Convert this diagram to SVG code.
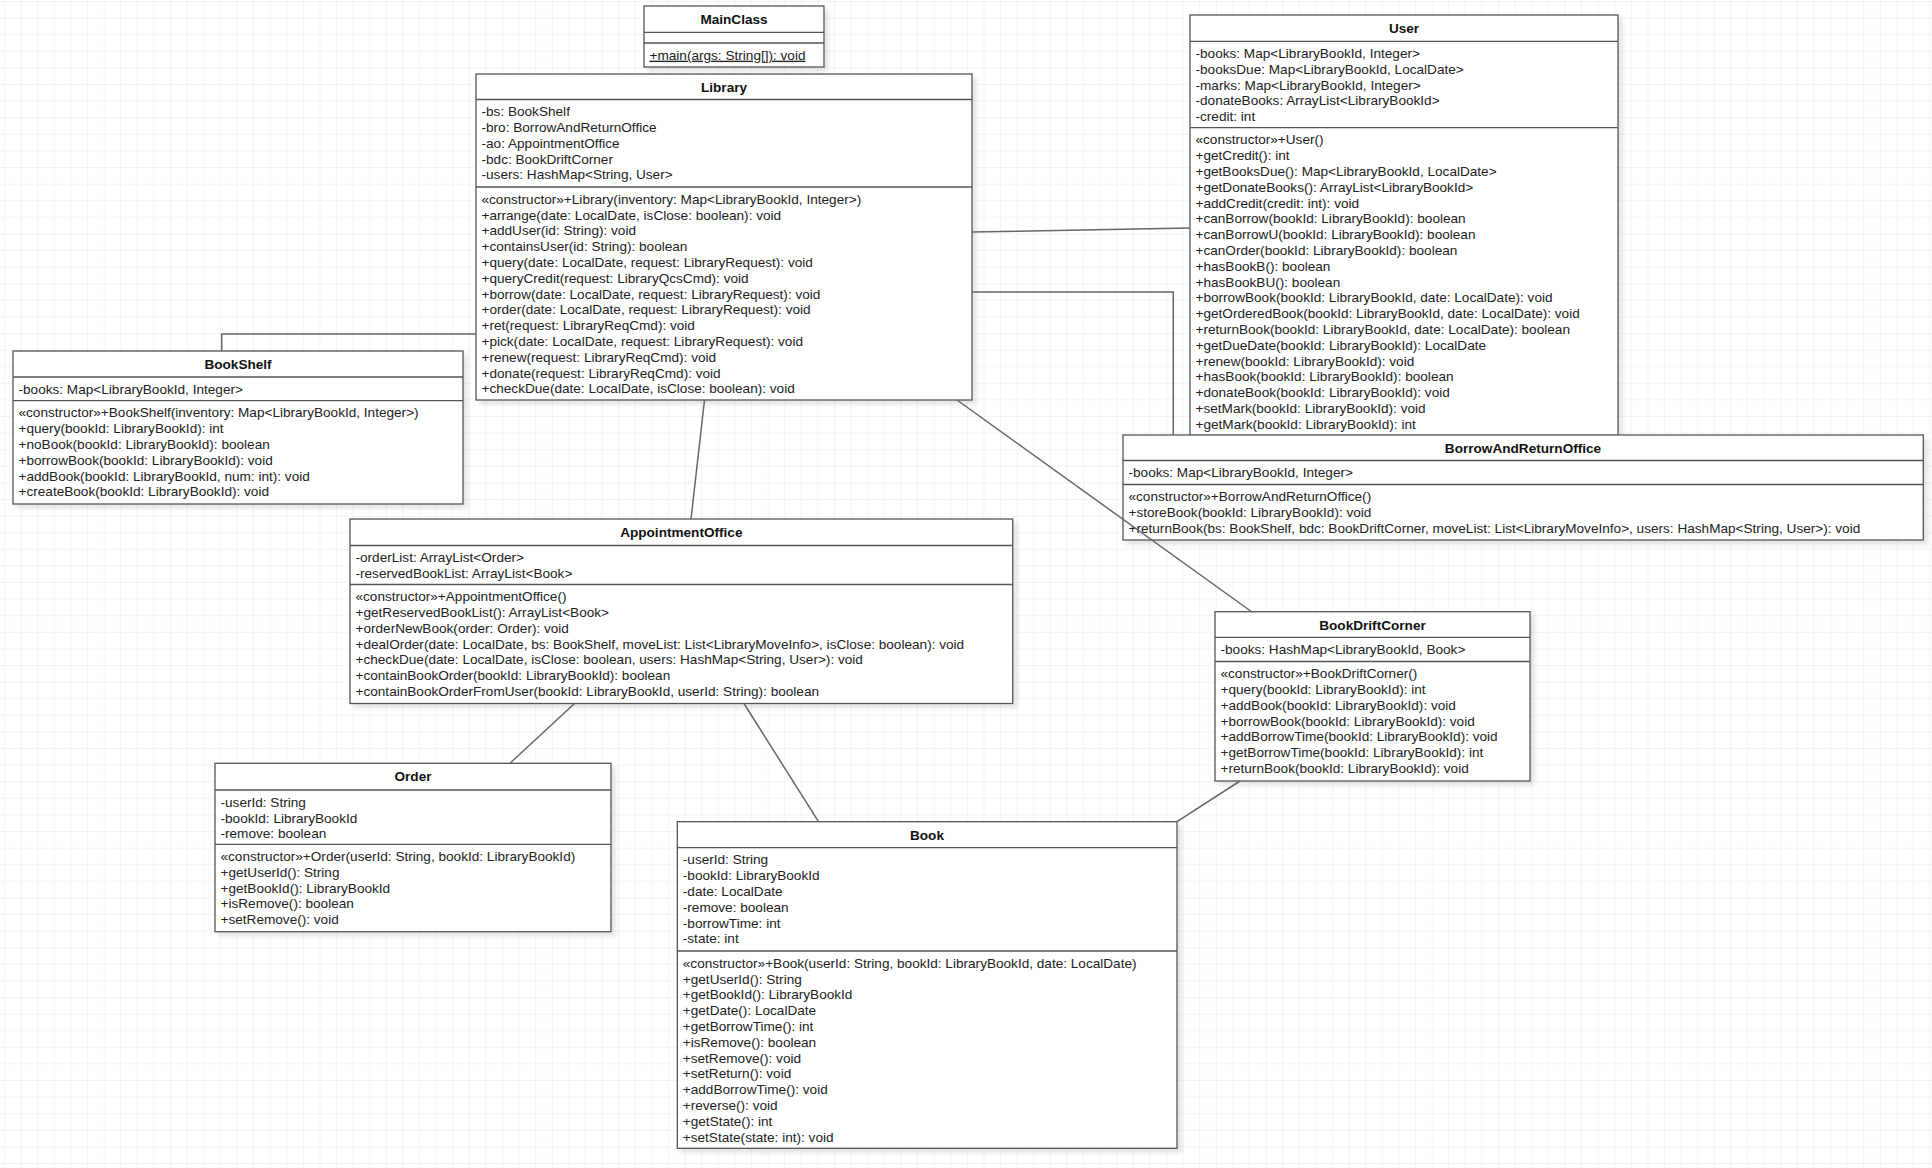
<svg xmlns="http://www.w3.org/2000/svg" width="1932" height="1168" viewBox="0 0 1932 1168">
<style>
.box{fill:#fff;stroke:#555;stroke-width:1.3;filter:url(#sh)}
.dv{stroke:#555;stroke-width:1.3}
.t{font-family:"Liberation Sans",Arial,Helvetica,sans-serif;font-size:13.6px;fill:#222}
.h{font-weight:bold;text-anchor:middle;fill:#111}
.u{text-decoration:underline}
.conn{stroke:#666;stroke-width:1.5;fill:none}
</style>
<defs>
<pattern id="grid" x="5" y="2" width="16.6" height="16.6" patternUnits="userSpaceOnUse">
<path d="M16.6 0 V16.6 M0 16.6 H16.6" fill="none" stroke="#e8e8e8" stroke-width="1"/>
</pattern>
<filter id="sh" x="-5%" y="-5%" width="115%" height="115%">
<feDropShadow dx="4" dy="4" stdDeviation="2" flood-color="#000" flood-opacity="0.1"/>
</filter>
</defs>
<rect width="1932" height="1168" fill="#fff"/>
<rect width="1932" height="1168" fill="url(#grid)"/>

<g id="MainClass">
<rect class="box" x="644" y="6" width="180" height="61"/>
<line class="dv" x1="644" y1="32.3" x2="824" y2="32.3"/>
<line class="dv" x1="644" y1="43" x2="824" y2="43"/>
<text class="t h" x="734" y="24">MainClass</text>
<text class="t u" x="649.5" y="59.7">+main(args: String[]): void</text>
</g>

<g id="Library">
<rect class="box" x="476" y="74" width="496" height="326"/>
<line class="dv" x1="476" y1="99.5" x2="972" y2="99.5"/>
<line class="dv" x1="476" y1="187" x2="972" y2="187"/>
<text class="t h" x="724" y="92">Library</text>
<text class="t" x="481.5" y="116.2">-bs: BookShelf<tspan x="481.5" dy="15.8">-bro: BorrowAndReturnOffice</tspan><tspan x="481.5" dy="15.8">-ao: AppointmentOffice</tspan><tspan x="481.5" dy="15.8">-bdc: BookDriftCorner</tspan><tspan x="481.5" dy="15.8">-users: HashMap&lt;String, User&gt;</tspan></text>
<text class="t" x="481.5" y="203.7">«constructor»+Library(inventory: Map&lt;LibraryBookId, Integer&gt;)<tspan x="481.5" dy="15.8">+arrange(date: LocalDate, isClose: boolean): void</tspan><tspan x="481.5" dy="15.8">+addUser(id: String): void</tspan><tspan x="481.5" dy="15.8">+containsUser(id: String): boolean</tspan><tspan x="481.5" dy="15.8">+query(date: LocalDate, request: LibraryRequest): void</tspan><tspan x="481.5" dy="15.8">+queryCredit(request: LibraryQcsCmd): void</tspan><tspan x="481.5" dy="15.8">+borrow(date: LocalDate, request: LibraryRequest): void</tspan><tspan x="481.5" dy="15.8">+order(date: LocalDate, request: LibraryRequest): void</tspan><tspan x="481.5" dy="15.8">+ret(request: LibraryReqCmd): void</tspan><tspan x="481.5" dy="15.8">+pick(date: LocalDate, request: LibraryRequest): void</tspan><tspan x="481.5" dy="15.8">+renew(request: LibraryReqCmd): void</tspan><tspan x="481.5" dy="15.8">+donate(request: LibraryReqCmd): void</tspan><tspan x="481.5" dy="15.8">+checkDue(date: LocalDate, isClose: boolean): void</tspan></text>
</g>

<g id="User">
<rect class="box" x="1190" y="15" width="428" height="420.5"/>
<line class="dv" x1="1190" y1="41.3" x2="1618" y2="41.3"/>
<line class="dv" x1="1190" y1="127.7" x2="1618" y2="127.7"/>
<text class="t h" x="1404" y="33">User</text>
<text class="t" x="1195.5" y="58">-books: Map&lt;LibraryBookId, Integer&gt;<tspan x="1195.5" dy="15.8">-booksDue: Map&lt;LibraryBookId, LocalDate&gt;</tspan><tspan x="1195.5" dy="15.8">-marks: Map&lt;LibraryBookId, Integer&gt;</tspan><tspan x="1195.5" dy="15.8">-donateBooks: ArrayList&lt;LibraryBookId&gt;</tspan><tspan x="1195.5" dy="15.8">-credit: int</tspan></text>
<text class="t" x="1195.5" y="144.4">«constructor»+User()<tspan x="1195.5" dy="15.8">+getCredit(): int</tspan><tspan x="1195.5" dy="15.8">+getBooksDue(): Map&lt;LibraryBookId, LocalDate&gt;</tspan><tspan x="1195.5" dy="15.8">+getDonateBooks(): ArrayList&lt;LibraryBookId&gt;</tspan><tspan x="1195.5" dy="15.8">+addCredit(credit: int): void</tspan><tspan x="1195.5" dy="15.8">+canBorrow(bookId: LibraryBookId): boolean</tspan><tspan x="1195.5" dy="15.8">+canBorrowU(bookId: LibraryBookId): boolean</tspan><tspan x="1195.5" dy="15.8">+canOrder(bookId: LibraryBookId): boolean</tspan><tspan x="1195.5" dy="15.8">+hasBookB(): boolean</tspan><tspan x="1195.5" dy="15.8">+hasBookBU(): boolean</tspan><tspan x="1195.5" dy="15.8">+borrowBook(bookId: LibraryBookId, date: LocalDate): void</tspan><tspan x="1195.5" dy="15.8">+getOrderedBook(bookId: LibraryBookId, date: LocalDate): void</tspan><tspan x="1195.5" dy="15.8">+returnBook(bookId: LibraryBookId, date: LocalDate): boolean</tspan><tspan x="1195.5" dy="15.8">+getDueDate(bookId: LibraryBookId): LocalDate</tspan><tspan x="1195.5" dy="15.8">+renew(bookId: LibraryBookId): void</tspan><tspan x="1195.5" dy="15.8">+hasBook(bookId: LibraryBookId): boolean</tspan><tspan x="1195.5" dy="15.8">+donateBook(bookId: LibraryBookId): void</tspan><tspan x="1195.5" dy="15.8">+setMark(bookId: LibraryBookId): void</tspan><tspan x="1195.5" dy="15.8">+getMark(bookId: LibraryBookId): int</tspan></text>
</g>

<g id="BookShelf">
<rect class="box" x="13" y="351" width="450" height="153"/>
<line class="dv" x1="13" y1="377" x2="463" y2="377"/>
<line class="dv" x1="13" y1="400.7" x2="463" y2="400.7"/>
<text class="t h" x="238" y="369">BookShelf</text>
<text class="t" x="18.5" y="393.7">-books: Map&lt;LibraryBookId, Integer&gt;</text>
<text class="t" x="18.5" y="417.4">«constructor»+BookShelf(inventory: Map&lt;LibraryBookId, Integer&gt;)<tspan x="18.5" dy="15.8">+query(bookId: LibraryBookId): int</tspan><tspan x="18.5" dy="15.8">+noBook(bookId: LibraryBookId): boolean</tspan><tspan x="18.5" dy="15.8">+borrowBook(bookId: LibraryBookId): void</tspan><tspan x="18.5" dy="15.8">+addBook(bookId: LibraryBookId, num: int): void</tspan><tspan x="18.5" dy="15.8">+createBook(bookId: LibraryBookId): void</tspan></text>
</g>

<g id="BorrowAndReturnOffice">
<rect class="box" x="1123" y="435" width="800.3" height="105"/>
<line class="dv" x1="1123" y1="460.5" x2="1923.3" y2="460.5"/>
<line class="dv" x1="1123" y1="484.5" x2="1923.3" y2="484.5"/>
<text class="t h" x="1523" y="453">BorrowAndReturnOffice</text>
<text class="t" x="1128.5" y="477.2">-books: Map&lt;LibraryBookId, Integer&gt;</text>
<text class="t" x="1128.5" y="501.2">«constructor»+BorrowAndReturnOffice()<tspan x="1128.5" dy="15.8">+storeBook(bookId: LibraryBookId): void</tspan><tspan x="1128.5" dy="15.8">+returnBook(bs: BookShelf, bdc: BookDriftCorner, moveList: List&lt;LibraryMoveInfo&gt;, users: HashMap&lt;String, User&gt;): void</tspan></text>
</g>

<g id="AppointmentOffice">
<rect class="box" x="350" y="519" width="662.7" height="184.5"/>
<line class="dv" x1="350" y1="545.5" x2="1012.7" y2="545.5"/>
<line class="dv" x1="350" y1="584.5" x2="1012.7" y2="584.5"/>
<text class="t h" x="681.3" y="537">AppointmentOffice</text>
<text class="t" x="355.5" y="562.2">-orderList: ArrayList&lt;Order&gt;<tspan x="355.5" dy="15.8">-reservedBookList: ArrayList&lt;Book&gt;</tspan></text>
<text class="t" x="355.5" y="601.2">«constructor»+AppointmentOffice()<tspan x="355.5" dy="15.8">+getReservedBookList(): ArrayList&lt;Book&gt;</tspan><tspan x="355.5" dy="15.8">+orderNewBook(order: Order): void</tspan><tspan x="355.5" dy="15.8">+dealOrder(date: LocalDate, bs: BookShelf, moveList: List&lt;LibraryMoveInfo&gt;, isClose: boolean): void</tspan><tspan x="355.5" dy="15.8">+checkDue(date: LocalDate, isClose: boolean, users: HashMap&lt;String, User&gt;): void</tspan><tspan x="355.5" dy="15.8">+containBookOrder(bookId: LibraryBookId): boolean</tspan><tspan x="355.5" dy="15.8">+containBookOrderFromUser(bookId: LibraryBookId, userId: String): boolean</tspan></text>
</g>

<g id="BookDriftCorner">
<rect class="box" x="1215" y="611.7" width="315" height="169.3"/>
<line class="dv" x1="1215" y1="637.3" x2="1530" y2="637.3"/>
<line class="dv" x1="1215" y1="661.5" x2="1530" y2="661.5"/>
<text class="t h" x="1372.5" y="629.7">BookDriftCorner</text>
<text class="t" x="1220.5" y="654">-books: HashMap&lt;LibraryBookId, Book&gt;</text>
<text class="t" x="1220.5" y="678.2">«constructor»+BookDriftCorner()<tspan x="1220.5" dy="15.8">+query(bookId: LibraryBookId): int</tspan><tspan x="1220.5" dy="15.8">+addBook(bookId: LibraryBookId): void</tspan><tspan x="1220.5" dy="15.8">+borrowBook(bookId: LibraryBookId): void</tspan><tspan x="1220.5" dy="15.8">+addBorrowTime(bookId: LibraryBookId): void</tspan><tspan x="1220.5" dy="15.8">+getBorrowTime(bookId: LibraryBookId): int</tspan><tspan x="1220.5" dy="15.8">+returnBook(bookId: LibraryBookId): void</tspan></text>
</g>

<g id="Order">
<rect class="box" x="215" y="763.3" width="396" height="168.4"/>
<line class="dv" x1="215" y1="790" x2="611" y2="790"/>
<line class="dv" x1="215" y1="844.3" x2="611" y2="844.3"/>
<text class="t h" x="413" y="781.3">Order</text>
<text class="t" x="220.5" y="806.7">-userId: String<tspan x="220.5" dy="15.8">-bookId: LibraryBookId</tspan><tspan x="220.5" dy="15.8">-remove: boolean</tspan></text>
<text class="t" x="220.5" y="861">«constructor»+Order(userId: String, bookId: LibraryBookId)<tspan x="220.5" dy="15.8">+getUserId(): String</tspan><tspan x="220.5" dy="15.8">+getBookId(): LibraryBookId</tspan><tspan x="220.5" dy="15.8">+isRemove(): boolean</tspan><tspan x="220.5" dy="15.8">+setRemove(): void</tspan></text>
</g>

<g id="Book">
<rect class="box" x="677.3" y="821.7" width="499.7" height="326.6"/>
<line class="dv" x1="677.3" y1="847.7" x2="1177" y2="847.7"/>
<line class="dv" x1="677.3" y1="951" x2="1177" y2="951"/>
<text class="t h" x="927" y="839.7">Book</text>
<text class="t" x="682.8" y="864.4">-userId: String<tspan x="682.8" dy="15.8">-bookId: LibraryBookId</tspan><tspan x="682.8" dy="15.8">-date: LocalDate</tspan><tspan x="682.8" dy="15.8">-remove: boolean</tspan><tspan x="682.8" dy="15.8">-borrowTime: int</tspan><tspan x="682.8" dy="15.8">-state: int</tspan></text>
<text class="t" x="682.8" y="967.7">«constructor»+Book(userId: String, bookId: LibraryBookId, date: LocalDate)<tspan x="682.8" dy="15.8">+getUserId(): String</tspan><tspan x="682.8" dy="15.8">+getBookId(): LibraryBookId</tspan><tspan x="682.8" dy="15.8">+getDate(): LocalDate</tspan><tspan x="682.8" dy="15.8">+getBorrowTime(): int</tspan><tspan x="682.8" dy="15.8">+isRemove(): boolean</tspan><tspan x="682.8" dy="15.8">+setRemove(): void</tspan><tspan x="682.8" dy="15.8">+setReturn(): void</tspan><tspan x="682.8" dy="15.8">+addBorrowTime(): void</tspan><tspan x="682.8" dy="15.8">+reverse(): void</tspan><tspan x="682.8" dy="15.8">+getState(): int</tspan><tspan x="682.8" dy="15.8">+setState(state: int): void</tspan></text>
</g>

<g id="connectors">
<polyline class="conn" points="476,334 221.7,334 221.7,351"/>
<line class="conn" x1="972" y1="232" x2="1190" y2="228"/>
<polyline class="conn" points="972,292 1173.3,292 1173.3,435"/>
<line class="conn" x1="704.5" y1="400" x2="691" y2="519"/>
<line class="conn" x1="957" y1="400" x2="1252" y2="612"/>
<line class="conn" x1="574.5" y1="703.5" x2="510" y2="763.3"/>
<line class="conn" x1="744" y1="703.5" x2="818.5" y2="821.7"/>
<line class="conn" x1="1240" y1="781" x2="1177" y2="821.7"/>
</g>

</svg>
